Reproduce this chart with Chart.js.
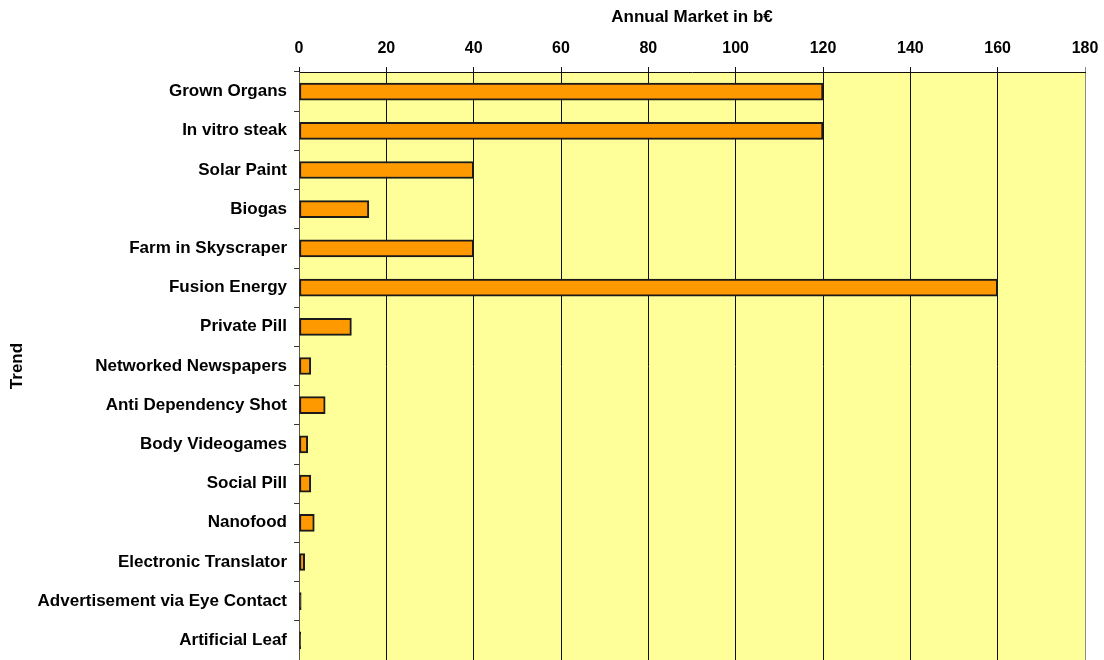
<!DOCTYPE html>
<html>
<head>
<meta charset="utf-8">
<script src="https://cdn.jsdelivr.net/npm/chart.js@4/dist/chart.umd.min.js"></script>
<style>
  html, body { margin: 0; padding: 0; background: #fff; }
  canvas { display: block; }
</style>
</head>
<body>
<canvas id="grafico-tendencias" width="1104" height="660"></canvas>
<script>
// Mercado anual estimado por tendência (bilhões de euros)
const tendencias = [
  "Grown Organs",
  "In vitro steak",
  "Solar Paint",
  "Biogas",
  "Farm in Skyscraper",
  "Fusion Energy",
  "Private Pill",
  "Networked Newspapers",
  "Anti Dependency Shot",
  "Body Videogames",
  "Social Pill",
  "Nanofood",
  "Electronic Translator",
  "Advertisement via Eye Contact",
  "Artificial Leaf"
];
const mercadoAnual = [120, 120, 40, 16, 40, 160, 12, 2.7, 6, 2, 2.7, 3.5, 1.3, 0.5, 0.4];
const escalaMin = 0;
const escalaMax = 180;
const escalaPasso = 20;

const fonte = "'Liberation Sans', Arial, sans-serif";

// pinta o fundo amarelo só dentro da área do gráfico
const fundoArea = {
  id: "fundoArea",
  beforeDraw(chart) {
    const { ctx, chartArea } = chart;
    ctx.save();
    ctx.fillStyle = "#ffff99";
    ctx.fillRect(chartArea.left, chartArea.top, chartArea.right - chartArea.left, chartArea.bottom - chartArea.top);
    ctx.restore();
  }
};

const ctx = document.getElementById("grafico-tendencias").getContext("2d");

new Chart(ctx, {
  type: "bar",
  data: {
    labels: tendencias,
    datasets: [{
      label: "Annual Market in b€",
      data: mercadoAnual,
      // barras muito finas ficam só com a borda escura
      backgroundColor: (c) => c.raw < 1 ? "#1a1a1a" : "#ff9900",
      borderColor: "#1a1a1a",
      borderWidth: 2,
      borderSkipped: false,
      barThickness: 17
    }]
  },
  options: {
    indexAxis: "y",
    responsive: false,
    devicePixelRatio: 1,
    animation: false,
    layout: { padding: { left: 0, right: 19, top: 0, bottom: 0 } },
    plugins: {
      legend: { display: false },
      tooltip: { enabled: false }
    },
    scales: {
      x: {
        position: "top",
        min: escalaMin,
        max: escalaMax,
        // altura fixa e sem folga extra nas pontas
        afterFit: (s) => { s.height = 72; s.paddingLeft = 0; s.paddingRight = 0; },
        ticks: {
          stepSize: escalaPasso,
          color: "#000",
          padding: 9,
          font: { family: fonte, size: 16, weight: "bold" }
        },
        grid: {
          color: (c) => c.tick && c.tick.value === escalaMax ? "#8a8a8a" : "#111",
          lineWidth: 1,
          tickLength: 5
        },
        border: { display: true, color: "#111" },
        title: {
          display: true,
          text: "Annual Market in b€",
          color: "#000",
          padding: { top: 7, bottom: 0 },
          font: { family: fonte, size: 17, weight: "bold" }
        }
      },
      y: {
        afterFit: (s) => { s.width = 299; s.paddingTop = 0; s.paddingBottom = 0; },
        ticks: {
          color: "#000",
          padding: 7,
          font: { family: fonte, size: 17, weight: "bold" }
        },
        grid: {
          offset: true,
          drawOnChartArea: false,
          color: "#333",
          tickLength: 5
        },
        border: { display: true, color: "#555" },
        title: {
          display: true,
          text: "Trend",
          color: "#000",
          padding: { top: 7, bottom: 0 },
          font: { family: fonte, size: 17, weight: "bold" }
        }
      }
    }
  },
  plugins: [fundoArea]
});
</script>
</body>
</html>
